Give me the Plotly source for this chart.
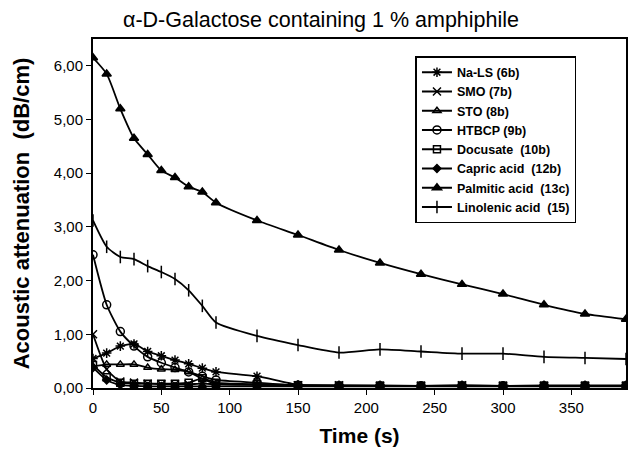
import plotly.graph_objects as go

time_s = [0, 10, 20, 30, 40, 50, 60, 70, 80, 90, 120, 150, 180, 210, 240, 270, 300, 330, 360, 390]

na_ls = [0.55, 0.65, 0.78, 0.82, 0.68, 0.60, 0.52, 0.45, 0.37, 0.30, 0.22, 0.06, 0.05, 0.05, 0.04, 0.05, 0.04, 0.05, 0.05, 0.05]
smo = [1.00, 0.35, 0.12, 0.10, 0.08, 0.07, 0.07, 0.07, 0.08, 0.07, 0.06, 0.05, 0.05, 0.04, 0.04, 0.05, 0.04, 0.04, 0.04, 0.04]
sto = [0.40, 0.44, 0.44, 0.44, 0.38, 0.35, 0.34, 0.30, 0.17, 0.08, 0.06, 0.05, 0.04, 0.04, 0.04, 0.04, 0.04, 0.04, 0.04, 0.04]
htbcp = [2.48, 1.55, 1.05, 0.78, 0.58, 0.47, 0.38, 0.30, 0.22, 0.15, 0.10, 0.05, 0.04, 0.04, 0.04, 0.04, 0.04, 0.04, 0.04, 0.04]
docusate = [0.43, 0.20, 0.10, 0.08, 0.08, 0.08, 0.08, 0.10, 0.18, 0.10, 0.07, 0.05, 0.04, 0.04, 0.04, 0.04, 0.04, 0.04, 0.04, 0.04]
capric = [0.38, 0.15, 0.06, 0.04, 0.03, 0.03, 0.03, 0.03, 0.03, 0.03, 0.03, 0.03, 0.03, 0.03, 0.03, 0.03, 0.03, 0.03, 0.03, 0.03]
palmitic = [6.15, 5.85, 5.20, 4.65, 4.35, 4.05, 3.92, 3.75, 3.65, 3.45, 3.12, 2.85, 2.57, 2.33, 2.12, 1.93, 1.75, 1.55, 1.38, 1.28]
linolenic = [3.12, 2.63, 2.44, 2.40, 2.27, 2.16, 2.03, 1.82, 1.53, 1.22, 0.97, 0.80, 0.66, 0.72, 0.68, 0.64, 0.64, 0.58, 0.56, 0.54]

series_names = ["Na-LS (6b)", "SMO (7b)", "STO (8b)", "HTBCP (9b)", "Docusate  (10b)",
                "Capric acid  (12b)", "Palmitic acid  (13c)", "Linolenic acid  (15)"]
series_values = [na_ls, smo, sto, htbcp, docusate, capric, palmitic, linolenic]
symbols = ["asterisk-open", "x-thin-open", "triangle-up-open", "circle-open", "square-open",
           "diamond", "triangle-up", "line-ns-open"]
sizes = [8, 8, 7, 8, 7, 6, 8, 9]

FONT = "Liberation Sans, Arial, sans-serif"

fig = go.Figure()
for name, vals, sym, sz in zip(series_names, series_values, symbols, sizes):
    fig.add_trace(go.Scatter(
        x=time_s, y=vals, name="<b>" + name + "</b>",
        mode="lines+markers",
        line=dict(color="black", width=1.8, shape="spline", smoothing=0.6),
        marker=dict(symbol=sym, size=sz, color="black",
                    line=dict(color="black", width=1.5)),
    ))

fig.update_layout(
    width=631, height=452,
    paper_bgcolor="white", plot_bgcolor="white",
    margin=dict(l=93, r=3, t=39, b=64),
    separators=", ",
    font=dict(family=FONT, color="black", size=15),
    title=dict(text="α-D-Galactose containing 1 % amphiphile",
               x=321 / 631, xanchor="center", xref="container",
               y=1 - 19 / 452, yanchor="middle", yref="container",
               font=dict(family=FONT, size=21.5, color="black")),
    legend=dict(x=0.605, y=0.951, xanchor="left", yanchor="top",
                bgcolor="white", bordercolor="black", borderwidth=1.5,
                font=dict(family=FONT, size=12.5, color="black"),
                tracegroupgap=0, itemwidth=30),
    xaxis=dict(range=[0, 390], dtick=50, tick0=0,
               showline=True, linecolor="black", linewidth=1.5, mirror=True,
               ticks="outside", ticklen=5, tickcolor="black", showgrid=False, zeroline=False,
               tickfont=dict(family=FONT, size=15),
               title=dict(text="<b>Time (s)</b>", font=dict(family=FONT, size=21), standoff=14)),
    yaxis=dict(range=[0, 6.5], dtick=1, tick0=0, tickformat=".2f",
               showline=True, linecolor="black", linewidth=2, mirror=True,
               ticks="outside", ticklen=5, tickcolor="black", showgrid=False, zeroline=False,
               tickfont=dict(family=FONT, size=15),
               title=dict(text="<b>Acoustic attenuation  (dB/cm)</b>", font=dict(family=FONT, size=22), standoff=18)),
)

fig.write_html("out.html", config={"displayModeBar": False},
               post_script="document.body.style.margin='0';")
